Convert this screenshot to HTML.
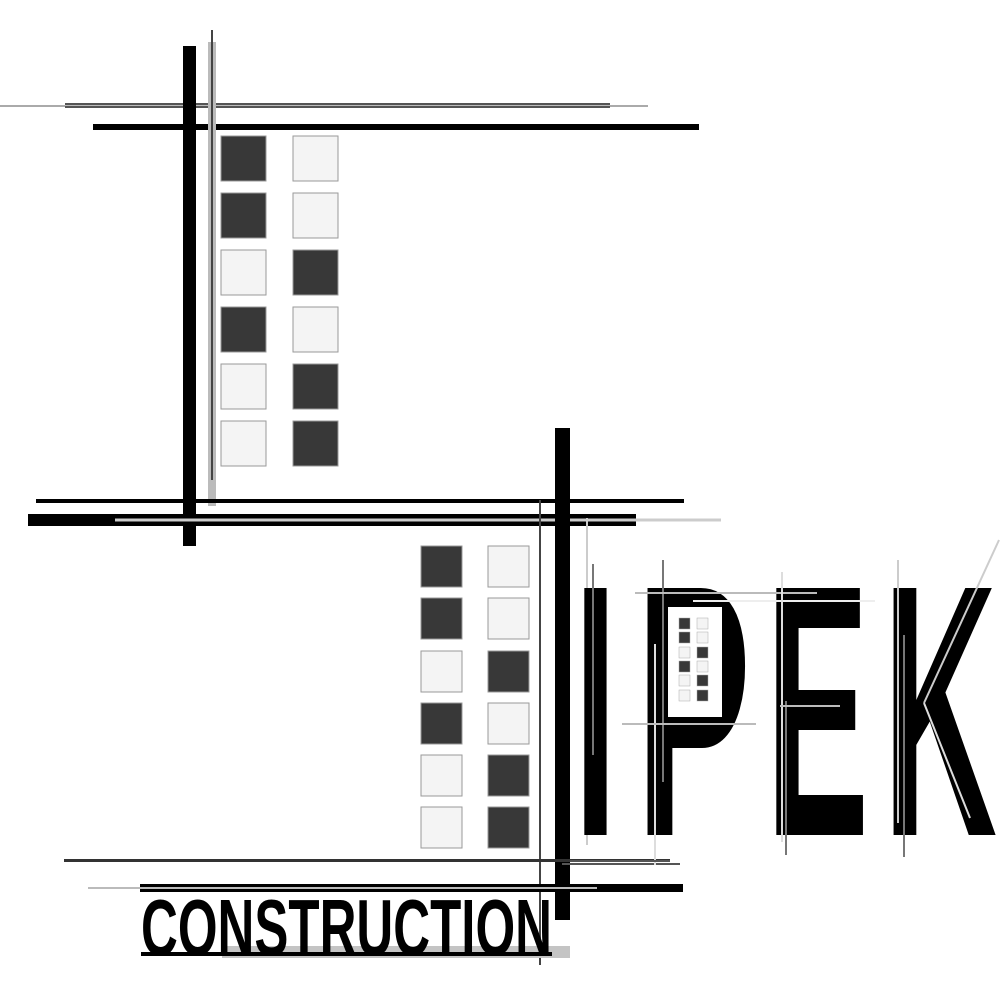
<!DOCTYPE html>
<html><head><meta charset="utf-8"><style>
html,body{margin:0;padding:0;background:#fff;}
svg{display:block;}
</style></head><body>
<svg width="1000" height="1000" viewBox="0 0 1000 1000" xmlns="http://www.w3.org/2000/svg">
<rect width="1000" height="1000" fill="#fff"/>
<line x1="0" y1="106" x2="648" y2="106" stroke="#aaa" stroke-width="2"/>
<rect x="65" y="103" width="545" height="5" fill="#555"/>
<line x1="65" y1="105.5" x2="610" y2="105.5" stroke="#bbb" stroke-width="1"/>
<rect x="93" y="124" width="606" height="6" fill="#000"/>
<rect x="183" y="46" width="13" height="500" fill="#000"/>
<rect x="208" y="42" width="8" height="464" fill="#bbb"/>
<line x1="212" y1="30" x2="212" y2="480" stroke="#444" stroke-width="2"/>
<g stroke="#999" stroke-width="1">
<rect x="221" y="136" width="45" height="45" fill="#383838"/><rect x="293" y="136" width="45" height="45" fill="#f4f4f4"/>
<rect x="221" y="193" width="45" height="45" fill="#383838"/><rect x="293" y="193" width="45" height="45" fill="#f4f4f4"/>
<rect x="221" y="250" width="45" height="45" fill="#f4f4f4"/><rect x="293" y="250" width="45" height="45" fill="#383838"/>
<rect x="221" y="307" width="45" height="45" fill="#383838"/><rect x="293" y="307" width="45" height="45" fill="#f4f4f4"/>
<rect x="221" y="364" width="45" height="45" fill="#f4f4f4"/><rect x="293" y="364" width="45" height="45" fill="#383838"/>
<rect x="221" y="421" width="45" height="45" fill="#f4f4f4"/><rect x="293" y="421" width="45" height="45" fill="#383838"/>
</g>
<rect x="36" y="499" width="648" height="4" fill="#000"/>
<rect x="28" y="514" width="608" height="12" fill="#000"/>
<line x1="115" y1="520" x2="721" y2="520" stroke="#ccc" stroke-width="3"/>
<rect x="555" y="428" width="15" height="492" fill="#000"/>
<line x1="540" y1="500" x2="540" y2="965" stroke="#444" stroke-width="2"/>
<line x1="587" y1="518" x2="587" y2="845" stroke="#ccc" stroke-width="2"/>
<g stroke="#999" stroke-width="1">
<rect x="421" y="546" width="41" height="41" fill="#383838"/><rect x="488" y="546" width="41" height="41" fill="#f4f4f4"/>
<rect x="421" y="598" width="41" height="41" fill="#383838"/><rect x="488" y="598" width="41" height="41" fill="#f4f4f4"/>
<rect x="421" y="651" width="41" height="41" fill="#f4f4f4"/><rect x="488" y="651" width="41" height="41" fill="#383838"/>
<rect x="421" y="703" width="41" height="41" fill="#383838"/><rect x="488" y="703" width="41" height="41" fill="#f4f4f4"/>
<rect x="421" y="755" width="41" height="41" fill="#f4f4f4"/><rect x="488" y="755" width="41" height="41" fill="#383838"/>
<rect x="421" y="807" width="41" height="41" fill="#f4f4f4"/><rect x="488" y="807" width="41" height="41" fill="#383838"/>
</g>
<rect x="64" y="859" width="606" height="3" fill="#333"/>
<line x1="88" y1="888" x2="140" y2="888" stroke="#bbb" stroke-width="2"/>
<rect x="140" y="884" width="543" height="8" fill="#000"/>
<line x1="140" y1="888" x2="597" y2="888" stroke="#bbb" stroke-width="2"/>
<line x1="562" y1="864" x2="680" y2="864" stroke="#555" stroke-width="2"/>
<rect x="222" y="946" width="348" height="12" fill="#c4c4c4"/>
<text x="141" y="955" font-family="Liberation Sans, sans-serif" font-weight="bold" font-size="80" textLength="411" lengthAdjust="spacingAndGlyphs" fill="#000">CONSTRUCTION</text>
<rect x="141" y="952" width="411" height="4" fill="#000"/>
<g font-family="Liberation Sans, sans-serif" font-weight="bold" font-size="359" fill="#000">
<text transform="translate(574,835) scale(0.43,1)">I</text>
<text transform="translate(636,835) scale(0.48,1)">P</text>
<text transform="translate(766,835) scale(0.43,1)">E</text>
<text transform="translate(883,835) scale(0.44,1)">K</text>
</g>
<rect x="668" y="607" width="54" height="110" fill="#fff"/>
<g stroke="#aaa" stroke-width="0.5">
<rect x="679" y="618" width="11" height="11" fill="#383838"/><rect x="697" y="618" width="11" height="11" fill="#f4f4f4"/>
<rect x="679" y="632" width="11" height="11" fill="#383838"/><rect x="697" y="632" width="11" height="11" fill="#f4f4f4"/>
<rect x="679" y="647" width="11" height="11" fill="#f4f4f4"/><rect x="697" y="647" width="11" height="11" fill="#383838"/>
<rect x="679" y="661" width="11" height="11" fill="#383838"/><rect x="697" y="661" width="11" height="11" fill="#f4f4f4"/>
<rect x="679" y="675" width="11" height="11" fill="#f4f4f4"/><rect x="697" y="675" width="11" height="11" fill="#383838"/>
<rect x="679" y="690" width="11" height="11" fill="#f4f4f4"/><rect x="697" y="690" width="11" height="11" fill="#383838"/>
</g>
<g stroke-width="2">
<line x1="593" y1="564" x2="593" y2="755" stroke="#777"/>
<line x1="663" y1="560" x2="663" y2="782" stroke="#777"/>
<line x1="655" y1="644" x2="655" y2="865" stroke="#ddd"/>
<line x1="635" y1="593" x2="817" y2="593" stroke="#bbb"/>
<line x1="693" y1="601" x2="875" y2="601" stroke="#eee"/>
<line x1="622" y1="724" x2="756" y2="724" stroke="#bbb"/>
<line x1="782" y1="572" x2="782" y2="842" stroke="#ddd"/>
<line x1="786" y1="701" x2="786" y2="855" stroke="#777"/>
<line x1="780" y1="706" x2="840" y2="706" stroke="#bbb"/>
<line x1="898" y1="560" x2="898" y2="823" stroke="#ccc"/>
<line x1="904" y1="635" x2="904" y2="857" stroke="#777"/>
<line x1="924" y1="703" x2="970" y2="818" stroke="#ddd"/>
<line x1="924" y1="703" x2="999" y2="540" stroke="#ccc"/>
<line x1="570" y1="861" x2="670" y2="861" stroke="#555"/>
</g>
</svg>
</body></html>
